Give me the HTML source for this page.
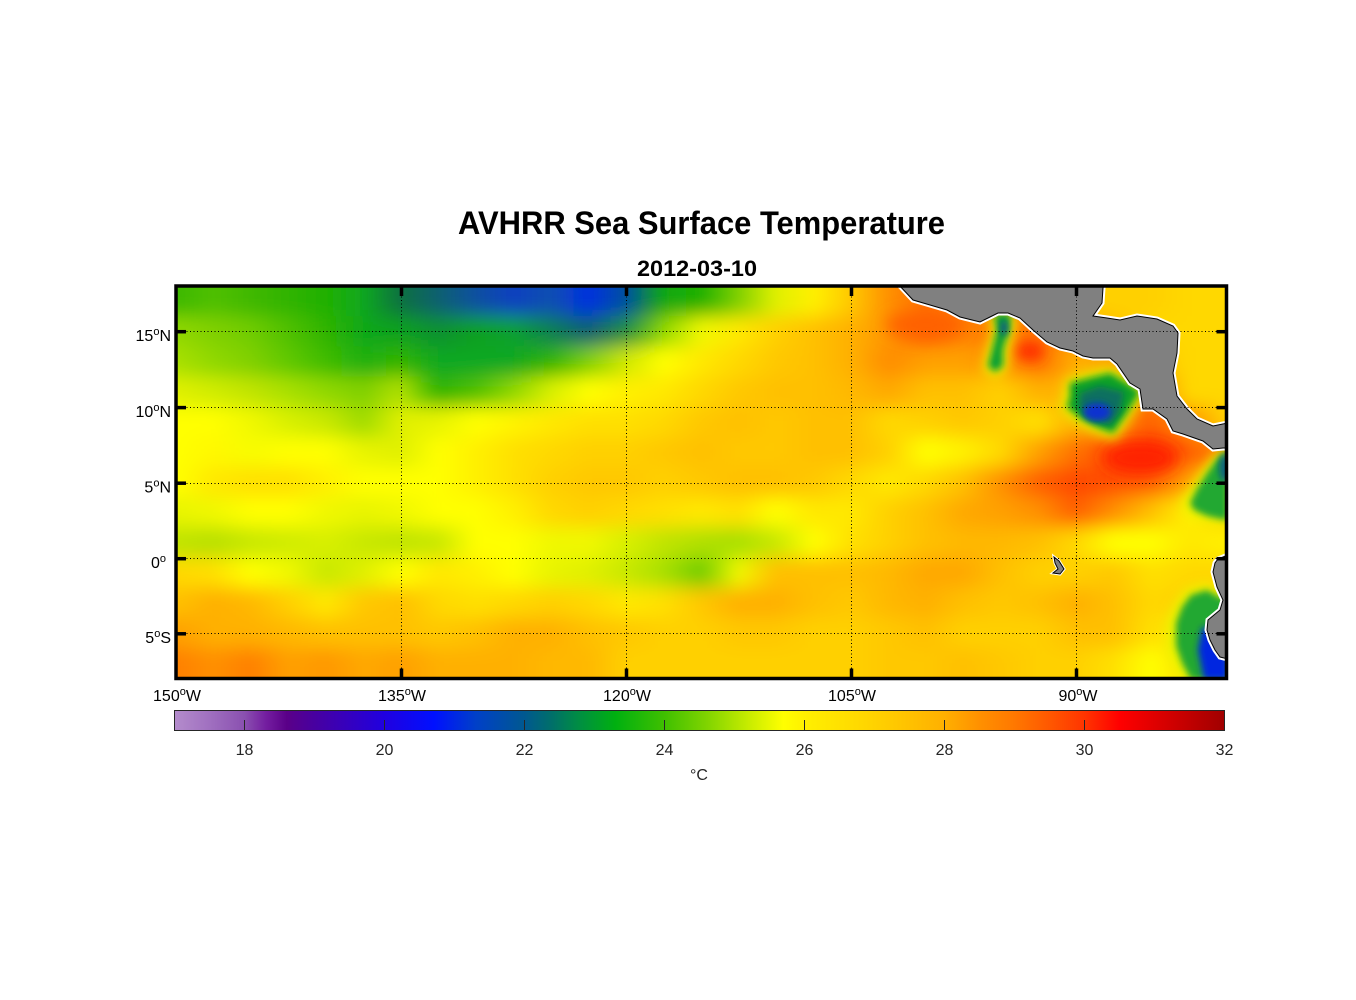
<!DOCTYPE html>
<html><head><meta charset="utf-8"><style>
html,body{margin:0;padding:0;background:#fff;}
svg{display:block;}
text{font-family:"Liberation Sans",Arial,sans-serif;}
</style></head><body>
<svg width="1356" height="1000" viewBox="0 0 1356 1000" xmlns="http://www.w3.org/2000/svg">
<defs>
<linearGradient id="r0" gradientUnits="userSpaceOnUse" x1="176" y1="0" x2="1226" y2="0">
<stop offset="0" stop-color="#3cb800"/><stop offset=".0357" stop-color="#50c000"/><stop offset=".0714" stop-color="#40b800"/><stop offset=".1071" stop-color="#30b400"/><stop offset=".1429" stop-color="#20b000"/><stop offset=".1786" stop-color="#10a820"/><stop offset=".2143" stop-color="#107040"/><stop offset=".25" stop-color="#0a6070"/><stop offset=".2857" stop-color="#1050a0"/><stop offset=".3214" stop-color="#1040c0"/><stop offset=".3571" stop-color="#1050b0"/><stop offset=".3929" stop-color="#0030e0"/><stop offset=".4286" stop-color="#0050a0"/><stop offset=".4643" stop-color="#10a810"/><stop offset=".5" stop-color="#20b000"/><stop offset=".5357" stop-color="#80d000"/><stop offset=".5714" stop-color="#e0f000"/><stop offset=".6071" stop-color="#fff000"/><stop offset=".6429" stop-color="#ffc800"/><stop offset=".6786" stop-color="#ff9000"/><stop offset=".7143" stop-color="#ff7000"/><stop offset=".75" stop-color="#ff8000"/><stop offset=".7857" stop-color="#ff8000"/><stop offset=".8214" stop-color="#ff9000"/><stop offset=".8571" stop-color="#ffd000"/><stop offset=".8929" stop-color="#ffd000"/><stop offset=".9286" stop-color="#ffd000"/><stop offset=".9643" stop-color="#ffd800"/><stop offset="1" stop-color="#ffd800"/>
</linearGradient>
<linearGradient id="r1" gradientUnits="userSpaceOnUse" x1="176" y1="0" x2="1226" y2="0">
<stop offset="0" stop-color="#90d800"/><stop offset=".0357" stop-color="#80d000"/><stop offset=".0714" stop-color="#70cc00"/><stop offset=".1071" stop-color="#50c000"/><stop offset=".1429" stop-color="#30b400"/><stop offset=".1786" stop-color="#10a818"/><stop offset=".2143" stop-color="#10a020"/><stop offset=".25" stop-color="#109030"/><stop offset=".2857" stop-color="#10a020"/><stop offset=".3214" stop-color="#10a030"/><stop offset=".3571" stop-color="#108050"/><stop offset=".3929" stop-color="#106070"/><stop offset=".4286" stop-color="#209040"/><stop offset=".4643" stop-color="#90d800"/><stop offset=".5" stop-color="#f0f800"/><stop offset=".5357" stop-color="#ffe800"/><stop offset=".5714" stop-color="#ffd000"/><stop offset=".6071" stop-color="#ffc000"/><stop offset=".6429" stop-color="#ffb000"/><stop offset=".6786" stop-color="#ff9800"/><stop offset=".7143" stop-color="#ff6a00"/><stop offset=".75" stop-color="#ff8000"/><stop offset=".7857" stop-color="#ff8000"/><stop offset=".8214" stop-color="#ff7000"/><stop offset=".8571" stop-color="#ff9000"/><stop offset=".8929" stop-color="#ffc000"/><stop offset=".9286" stop-color="#ffd800"/><stop offset=".9643" stop-color="#ffd800"/><stop offset="1" stop-color="#ffd800"/>
</linearGradient>
<linearGradient id="r2" gradientUnits="userSpaceOnUse" x1="176" y1="0" x2="1226" y2="0">
<stop offset="0" stop-color="#a8e000"/><stop offset=".0357" stop-color="#90d800"/><stop offset=".0714" stop-color="#80d000"/><stop offset=".1071" stop-color="#60c800"/><stop offset=".1429" stop-color="#40bc00"/><stop offset=".1786" stop-color="#20b010"/><stop offset=".2143" stop-color="#30b400"/><stop offset=".25" stop-color="#10a820"/><stop offset=".2857" stop-color="#10a820"/><stop offset=".3214" stop-color="#10a820"/><stop offset=".3571" stop-color="#30b400"/><stop offset=".3929" stop-color="#80d000"/><stop offset=".4286" stop-color="#d0e800"/><stop offset=".4643" stop-color="#ffff00"/><stop offset=".5" stop-color="#ffe800"/><stop offset=".5357" stop-color="#ffd800"/><stop offset=".5714" stop-color="#ffc800"/><stop offset=".6071" stop-color="#ffc000"/><stop offset=".6429" stop-color="#ffb000"/><stop offset=".6786" stop-color="#ff8c00"/><stop offset=".7143" stop-color="#ffa000"/><stop offset=".75" stop-color="#ffa000"/><stop offset=".7857" stop-color="#ff9000"/><stop offset=".8214" stop-color="#ff7000"/><stop offset=".8571" stop-color="#ffb000"/><stop offset=".8929" stop-color="#ffa000"/><stop offset=".9286" stop-color="#ffc000"/><stop offset=".9643" stop-color="#ffd800"/><stop offset="1" stop-color="#ffd800"/>
</linearGradient>
<linearGradient id="r3" gradientUnits="userSpaceOnUse" x1="176" y1="0" x2="1226" y2="0">
<stop offset="0" stop-color="#e0f000"/><stop offset=".0357" stop-color="#d0ec00"/><stop offset=".0714" stop-color="#c0e400"/><stop offset=".1071" stop-color="#a8e000"/><stop offset=".1429" stop-color="#90d800"/><stop offset=".1786" stop-color="#80d000"/><stop offset=".2143" stop-color="#b0e000"/><stop offset=".25" stop-color="#30b400"/><stop offset=".2857" stop-color="#50c000"/><stop offset=".3214" stop-color="#90d800"/><stop offset=".3571" stop-color="#d8f000"/><stop offset=".3929" stop-color="#ffff00"/><stop offset=".4286" stop-color="#fff000"/><stop offset=".4643" stop-color="#ffe800"/><stop offset=".5" stop-color="#ffd800"/><stop offset=".5357" stop-color="#ffc800"/><stop offset=".5714" stop-color="#ffc000"/><stop offset=".6071" stop-color="#ffc000"/><stop offset=".6429" stop-color="#ffb800"/><stop offset=".6786" stop-color="#ffa800"/><stop offset=".7143" stop-color="#ffc000"/><stop offset=".75" stop-color="#ffc000"/><stop offset=".7857" stop-color="#ffd000"/><stop offset=".8214" stop-color="#ffb000"/><stop offset=".8571" stop-color="#ffb800"/><stop offset=".8929" stop-color="#ffa000"/><stop offset=".9286" stop-color="#ff8000"/><stop offset=".9643" stop-color="#ffd800"/><stop offset="1" stop-color="#ffd800"/>
</linearGradient>
<linearGradient id="r4" gradientUnits="userSpaceOnUse" x1="176" y1="0" x2="1226" y2="0">
<stop offset="0" stop-color="#ffff00"/><stop offset=".0357" stop-color="#ffff00"/><stop offset=".0714" stop-color="#f0f800"/><stop offset=".1071" stop-color="#d8f000"/><stop offset=".1429" stop-color="#c8e800"/><stop offset=".1786" stop-color="#a0dc00"/><stop offset=".2143" stop-color="#e0f000"/><stop offset=".25" stop-color="#e8f400"/><stop offset=".2857" stop-color="#ffff00"/><stop offset=".3214" stop-color="#fff400"/><stop offset=".3571" stop-color="#ffe800"/><stop offset=".3929" stop-color="#ffe000"/><stop offset=".4286" stop-color="#ffe000"/><stop offset=".4643" stop-color="#ffd800"/><stop offset=".5" stop-color="#ffc800"/><stop offset=".5357" stop-color="#ffc000"/><stop offset=".5714" stop-color="#ffc800"/><stop offset=".6071" stop-color="#ffc000"/><stop offset=".6429" stop-color="#ffc000"/><stop offset=".6786" stop-color="#ffd800"/><stop offset=".7143" stop-color="#ffd000"/><stop offset=".75" stop-color="#ffc800"/><stop offset=".7857" stop-color="#ffd000"/><stop offset=".8214" stop-color="#ffe000"/><stop offset=".8571" stop-color="#ffb000"/><stop offset=".8929" stop-color="#ff9000"/><stop offset=".9286" stop-color="#ff6000"/><stop offset=".9643" stop-color="#ff9000"/><stop offset="1" stop-color="#ffd000"/>
</linearGradient>
<linearGradient id="r5" gradientUnits="userSpaceOnUse" x1="176" y1="0" x2="1226" y2="0">
<stop offset="0" stop-color="#ffff00"/><stop offset=".0357" stop-color="#fff800"/><stop offset=".0714" stop-color="#f8fc00"/><stop offset=".1071" stop-color="#ffff00"/><stop offset=".1429" stop-color="#ffff00"/><stop offset=".1786" stop-color="#e8f400"/><stop offset=".2143" stop-color="#e0f000"/><stop offset=".25" stop-color="#ffff00"/><stop offset=".2857" stop-color="#fff000"/><stop offset=".3214" stop-color="#ffe000"/><stop offset=".3571" stop-color="#ffd800"/><stop offset=".3929" stop-color="#ffd000"/><stop offset=".4286" stop-color="#ffd000"/><stop offset=".4643" stop-color="#ffc800"/><stop offset=".5" stop-color="#ffc000"/><stop offset=".5357" stop-color="#ffc800"/><stop offset=".5714" stop-color="#ffc800"/><stop offset=".6071" stop-color="#ffc000"/><stop offset=".6429" stop-color="#ffc000"/><stop offset=".6786" stop-color="#ffd000"/><stop offset=".7143" stop-color="#ffff00"/><stop offset=".75" stop-color="#fff000"/><stop offset=".7857" stop-color="#ffd800"/><stop offset=".8214" stop-color="#ffa000"/><stop offset=".8571" stop-color="#ff7000"/><stop offset=".8929" stop-color="#ff5000"/><stop offset=".9286" stop-color="#ff3000"/><stop offset=".9643" stop-color="#ff6000"/><stop offset="1" stop-color="#ff8000"/>
</linearGradient>
<linearGradient id="r6" gradientUnits="userSpaceOnUse" x1="176" y1="0" x2="1226" y2="0">
<stop offset="0" stop-color="#ffff00"/><stop offset=".0357" stop-color="#ffe800"/><stop offset=".0714" stop-color="#ffe000"/><stop offset=".1071" stop-color="#ffe000"/><stop offset=".1429" stop-color="#fff000"/><stop offset=".1786" stop-color="#ffff00"/><stop offset=".2143" stop-color="#ffff00"/><stop offset=".25" stop-color="#ffff00"/><stop offset=".2857" stop-color="#fff000"/><stop offset=".3214" stop-color="#ffe000"/><stop offset=".3571" stop-color="#ffd000"/><stop offset=".3929" stop-color="#ffc800"/><stop offset=".4286" stop-color="#ffc800"/><stop offset=".4643" stop-color="#ffd000"/><stop offset=".5" stop-color="#ffc800"/><stop offset=".5357" stop-color="#ffc000"/><stop offset=".5714" stop-color="#ffc000"/><stop offset=".6071" stop-color="#ffc800"/><stop offset=".6429" stop-color="#ffd800"/><stop offset=".6786" stop-color="#ffe800"/><stop offset=".7143" stop-color="#ffd800"/><stop offset=".75" stop-color="#ffc000"/><stop offset=".7857" stop-color="#ff9000"/><stop offset=".8214" stop-color="#ff6000"/><stop offset=".8571" stop-color="#ff4800"/><stop offset=".8929" stop-color="#ff5000"/><stop offset=".9286" stop-color="#ff6000"/><stop offset=".9643" stop-color="#ffa000"/><stop offset="1" stop-color="#ff9000"/>
</linearGradient>
<linearGradient id="r7" gradientUnits="userSpaceOnUse" x1="176" y1="0" x2="1226" y2="0">
<stop offset="0" stop-color="#e8f400"/><stop offset=".0357" stop-color="#f0f800"/><stop offset=".0714" stop-color="#ffff00"/><stop offset=".1071" stop-color="#ffff00"/><stop offset=".1429" stop-color="#f0f800"/><stop offset=".1786" stop-color="#e8f400"/><stop offset=".2143" stop-color="#f0f800"/><stop offset=".25" stop-color="#ffff00"/><stop offset=".2857" stop-color="#ffff00"/><stop offset=".3214" stop-color="#fff000"/><stop offset=".3571" stop-color="#ffd800"/><stop offset=".3929" stop-color="#ffd000"/><stop offset=".4286" stop-color="#ffd800"/><stop offset=".4643" stop-color="#ffe000"/><stop offset=".5" stop-color="#ffe800"/><stop offset=".5357" stop-color="#ffe000"/><stop offset=".5714" stop-color="#ffff00"/><stop offset=".6071" stop-color="#ffe800"/><stop offset=".6429" stop-color="#ffe800"/><stop offset=".6786" stop-color="#ffd000"/><stop offset=".7143" stop-color="#ffc000"/><stop offset=".75" stop-color="#ffa800"/><stop offset=".7857" stop-color="#ffa000"/><stop offset=".8214" stop-color="#ff9000"/><stop offset=".8571" stop-color="#ff6000"/><stop offset=".8929" stop-color="#ff9000"/><stop offset=".9286" stop-color="#ffc000"/><stop offset=".9643" stop-color="#fff000"/><stop offset="1" stop-color="#ffd000"/>
</linearGradient>
<linearGradient id="r8" gradientUnits="userSpaceOnUse" x1="176" y1="0" x2="1226" y2="0">
<stop offset="0" stop-color="#c0e400"/><stop offset=".0357" stop-color="#b8e000"/><stop offset=".0714" stop-color="#c8e800"/><stop offset=".1071" stop-color="#d0ec00"/><stop offset=".1429" stop-color="#d8f000"/><stop offset=".1786" stop-color="#c8e800"/><stop offset=".2143" stop-color="#c0e400"/><stop offset=".25" stop-color="#c8e800"/><stop offset=".2857" stop-color="#ffff00"/><stop offset=".3214" stop-color="#ffff00"/><stop offset=".3571" stop-color="#f0f800"/><stop offset=".3929" stop-color="#f0f800"/><stop offset=".4286" stop-color="#d8f000"/><stop offset=".4643" stop-color="#c0e400"/><stop offset=".5" stop-color="#b0e000"/><stop offset=".5357" stop-color="#a8e000"/><stop offset=".5714" stop-color="#c8e800"/><stop offset=".6071" stop-color="#ffff00"/><stop offset=".6429" stop-color="#ffe000"/><stop offset=".6786" stop-color="#ffd000"/><stop offset=".7143" stop-color="#ffc000"/><stop offset=".75" stop-color="#ffb800"/><stop offset=".7857" stop-color="#ffb800"/><stop offset=".8214" stop-color="#ffc000"/><stop offset=".8571" stop-color="#ffd800"/><stop offset=".8929" stop-color="#ffff00"/><stop offset=".9286" stop-color="#ffff00"/><stop offset=".9643" stop-color="#ffe800"/><stop offset="1" stop-color="#fff000"/>
</linearGradient>
<linearGradient id="r9" gradientUnits="userSpaceOnUse" x1="176" y1="0" x2="1226" y2="0">
<stop offset="0" stop-color="#ffd800"/><stop offset=".0357" stop-color="#ffe000"/><stop offset=".0714" stop-color="#ffff00"/><stop offset=".1071" stop-color="#f0f800"/><stop offset=".1429" stop-color="#c8e800"/><stop offset=".1786" stop-color="#e0f000"/><stop offset=".2143" stop-color="#ffff00"/><stop offset=".25" stop-color="#ffe800"/><stop offset=".2857" stop-color="#fff000"/><stop offset=".3214" stop-color="#ffff00"/><stop offset=".3571" stop-color="#e8f400"/><stop offset=".3929" stop-color="#e0f000"/><stop offset=".4286" stop-color="#c8e800"/><stop offset=".4643" stop-color="#a8e000"/><stop offset=".5" stop-color="#70cc00"/><stop offset=".5357" stop-color="#f0f800"/><stop offset=".5714" stop-color="#ffc000"/><stop offset=".6071" stop-color="#ffc000"/><stop offset=".6429" stop-color="#ffc000"/><stop offset=".6786" stop-color="#ffb800"/><stop offset=".7143" stop-color="#ffa800"/><stop offset=".75" stop-color="#ffa800"/><stop offset=".7857" stop-color="#ffc000"/><stop offset=".8214" stop-color="#ffd000"/><stop offset=".8571" stop-color="#ffd000"/><stop offset=".8929" stop-color="#ffc800"/><stop offset=".9286" stop-color="#ffe000"/><stop offset=".9643" stop-color="#ffd800"/><stop offset="1" stop-color="#ffd800"/>
</linearGradient>
<linearGradient id="r10" gradientUnits="userSpaceOnUse" x1="176" y1="0" x2="1226" y2="0">
<stop offset="0" stop-color="#ffc000"/><stop offset=".0357" stop-color="#ffb000"/><stop offset=".0714" stop-color="#ffb800"/><stop offset=".1071" stop-color="#ffd000"/><stop offset=".1429" stop-color="#ffe800"/><stop offset=".1786" stop-color="#ffc800"/><stop offset=".2143" stop-color="#ffc000"/><stop offset=".25" stop-color="#ffd800"/><stop offset=".2857" stop-color="#ffe000"/><stop offset=".3214" stop-color="#ffd800"/><stop offset=".3571" stop-color="#ffd000"/><stop offset=".3929" stop-color="#ffd800"/><stop offset=".4286" stop-color="#ffe800"/><stop offset=".4643" stop-color="#ffe000"/><stop offset=".5" stop-color="#ffc800"/><stop offset=".5357" stop-color="#ffb000"/><stop offset=".5714" stop-color="#ffb000"/><stop offset=".6071" stop-color="#ffc000"/><stop offset=".6429" stop-color="#ffc800"/><stop offset=".6786" stop-color="#ffb800"/><stop offset=".7143" stop-color="#ffb000"/><stop offset=".75" stop-color="#ffc000"/><stop offset=".7857" stop-color="#ffc800"/><stop offset=".8214" stop-color="#ffc000"/><stop offset=".8571" stop-color="#ffb000"/><stop offset=".8929" stop-color="#ffc000"/><stop offset=".9286" stop-color="#ffd800"/><stop offset=".9643" stop-color="#ffd000"/><stop offset="1" stop-color="#ffd000"/>
</linearGradient>
<linearGradient id="r11" gradientUnits="userSpaceOnUse" x1="176" y1="0" x2="1226" y2="0">
<stop offset="0" stop-color="#ffa000"/><stop offset=".0357" stop-color="#ffb000"/><stop offset=".0714" stop-color="#ffb000"/><stop offset=".1071" stop-color="#ffb800"/><stop offset=".1429" stop-color="#ffc000"/><stop offset=".1786" stop-color="#ffc000"/><stop offset=".2143" stop-color="#ffc000"/><stop offset=".25" stop-color="#ffc800"/><stop offset=".2857" stop-color="#ffc000"/><stop offset=".3214" stop-color="#ffb000"/><stop offset=".3571" stop-color="#ffb000"/><stop offset=".3929" stop-color="#ffc000"/><stop offset=".4286" stop-color="#ffc800"/><stop offset=".4643" stop-color="#ffd000"/><stop offset=".5" stop-color="#ffd000"/><stop offset=".5357" stop-color="#ffc800"/><stop offset=".5714" stop-color="#ffc800"/><stop offset=".6071" stop-color="#ffd000"/><stop offset=".6429" stop-color="#ffd000"/><stop offset=".6786" stop-color="#ffc800"/><stop offset=".7143" stop-color="#ffc000"/><stop offset=".75" stop-color="#ffd000"/><stop offset=".7857" stop-color="#ffd000"/><stop offset=".8214" stop-color="#ffd000"/><stop offset=".8571" stop-color="#ffc000"/><stop offset=".8929" stop-color="#ffc000"/><stop offset=".9286" stop-color="#ffe000"/><stop offset=".9643" stop-color="#ffe000"/><stop offset="1" stop-color="#ffd000"/>
</linearGradient>
<linearGradient id="r12" gradientUnits="userSpaceOnUse" x1="176" y1="0" x2="1226" y2="0">
<stop offset="0" stop-color="#ff8000"/><stop offset=".0357" stop-color="#ff9000"/><stop offset=".0714" stop-color="#ff8000"/><stop offset=".1071" stop-color="#ffa000"/><stop offset=".1429" stop-color="#ff9800"/><stop offset=".1786" stop-color="#ffa800"/><stop offset=".2143" stop-color="#ffa000"/><stop offset=".25" stop-color="#ffb000"/><stop offset=".2857" stop-color="#ffb000"/><stop offset=".3214" stop-color="#ffb000"/><stop offset=".3571" stop-color="#ffb800"/><stop offset=".3929" stop-color="#ffb800"/><stop offset=".4286" stop-color="#ffd000"/><stop offset=".4643" stop-color="#ffd000"/><stop offset=".5" stop-color="#ffd000"/><stop offset=".5357" stop-color="#ffd000"/><stop offset=".5714" stop-color="#ffd000"/><stop offset=".6071" stop-color="#ffd000"/><stop offset=".6429" stop-color="#ffd000"/><stop offset=".6786" stop-color="#ffc800"/><stop offset=".7143" stop-color="#ffc800"/><stop offset=".75" stop-color="#ffc000"/><stop offset=".7857" stop-color="#ffc800"/><stop offset=".8214" stop-color="#ffd000"/><stop offset=".8571" stop-color="#ffd000"/><stop offset=".8929" stop-color="#ffe000"/><stop offset=".9286" stop-color="#ffff00"/><stop offset=".9643" stop-color="#ffe000"/><stop offset="1" stop-color="#ffd000"/>
</linearGradient>
<linearGradient id="cb" gradientUnits="userSpaceOnUse" x1="174.5" y1="0" x2="1224.5" y2="0">
<stop offset="0" stop-color="#b48ccc"/><stop offset=".0333" stop-color="#a070c0"/><stop offset=".0667" stop-color="#8a50b0"/><stop offset=".087" stop-color="#741ea0"/><stop offset=".107" stop-color="#5a0088"/><stop offset=".133" stop-color="#4800a0"/><stop offset=".167" stop-color="#3400c0"/><stop offset=".2" stop-color="#2000e0"/><stop offset=".247" stop-color="#0010ff"/><stop offset=".287" stop-color="#0040c8"/><stop offset=".333" stop-color="#005890"/><stop offset=".36" stop-color="#007068"/><stop offset=".387" stop-color="#009040"/><stop offset=".42" stop-color="#00b010"/><stop offset=".467" stop-color="#40c000"/><stop offset=".507" stop-color="#80d400"/><stop offset=".547" stop-color="#c8ec00"/><stop offset=".58" stop-color="#ffff00"/><stop offset=".6" stop-color="#fff000"/><stop offset=".667" stop-color="#ffd200"/><stop offset=".733" stop-color="#ffb000"/><stop offset=".767" stop-color="#ff9000"/><stop offset=".8" stop-color="#ff7800"/><stop offset=".833" stop-color="#ff5800"/><stop offset=".867" stop-color="#ff3400"/><stop offset=".9" stop-color="#ff0000"/><stop offset=".933" stop-color="#e00000"/><stop offset=".967" stop-color="#c00000"/><stop offset="1" stop-color="#a00000"/>
</linearGradient>
<clipPath id="mapclip"><rect x="176" y="286" width="1050.5" height="392.5"/></clipPath>
<filter id="fb" filterUnits="userSpaceOnUse" x="100" y="200" width="1200" height="560"><feGaussianBlur stdDeviation="7 9"/></filter>
<filter id="f2" filterUnits="userSpaceOnUse" x="900" y="280" width="400" height="420"><feGaussianBlur stdDeviation="3.5"/></filter>
<filter id="f4" filterUnits="userSpaceOnUse" x="850" y="260" width="450" height="460"><feGaussianBlur stdDeviation="6"/></filter>
<filter id="f8" filterUnits="userSpaceOnUse" x="800" y="260" width="500" height="460"><feGaussianBlur stdDeviation="8"/></filter>
</defs>

<text x="458" y="234" font-size="32" font-weight="bold" textLength="487" lengthAdjust="spacingAndGlyphs" fill="#000">AVHRR Sea Surface Temperature</text>
<text x="637" y="276" font-size="22" font-weight="bold" textLength="120" lengthAdjust="spacingAndGlyphs" fill="#000">2012-03-10</text>

<g clip-path="url(#mapclip)">
 <g filter="url(#fb)">
  <rect x="130" y="240" width="1140" height="77.2" fill="url(#r0)"/>
  <rect x="130" y="316.15" width="1140" height="31.2" fill="url(#r1)"/>
  <rect x="130" y="346.3" width="1140" height="31.2" fill="url(#r2)"/>
  <rect x="130" y="376.45" width="1140" height="31.2" fill="url(#r3)"/>
  <rect x="130" y="406.6" width="1140" height="31.2" fill="url(#r4)"/>
  <rect x="130" y="436.75" width="1140" height="31.2" fill="url(#r5)"/>
  <rect x="130" y="466.9" width="1140" height="31.2" fill="url(#r6)"/>
  <rect x="130" y="497.05" width="1140" height="31.2" fill="url(#r7)"/>
  <rect x="130" y="527.2" width="1140" height="31.2" fill="url(#r8)"/>
  <rect x="130" y="557.35" width="1140" height="31.2" fill="url(#r9)"/>
  <rect x="130" y="587.5" width="1140" height="31.2" fill="url(#r10)"/>
  <rect x="130" y="617.65" width="1140" height="31.2" fill="url(#r11)"/>
  <rect x="130" y="647.8" width="1140" height="75" fill="url(#r12)"/>
 </g>
 <ellipse cx="925" cy="325" rx="40" ry="14" fill="#ff6000" filter="url(#f8)"/>
 <ellipse cx="1030" cy="351" rx="14" ry="10" fill="#ff3000" filter="url(#f4)"/>
 <ellipse cx="1140" cy="458" rx="38" ry="16" fill="#ff2200" filter="url(#f8)"/>
 <path d="M988,313 L1016,313 L1014,332 L1008,350 L1008,368 L996,378 L983,371 L987,350 L993,330 Z" fill="#e8f400" filter="url(#f4)"/>
 <path d="M994,314 L1011,314 L1009,330 L1003,350 L1003,366 L995,372 L988,366 L992,350 L997,330 Z" fill="#10a030" filter="url(#f2)"/>
 <ellipse cx="1004" cy="328" rx="4" ry="8" fill="#0a6080" filter="url(#f2)"/>
 <polygon points="1066,379 1093,371 1110,367 1132,380 1146,392 1131,417 1115,440 1095,433 1076,423 1060,409 1064,395" fill="#e0f000" filter="url(#f4)"/>
 <polygon points="1070,383 1093,377 1110,373 1127,383 1140,392 1127,413 1113,433 1097,427 1080,418 1067,407 1070,397" fill="#10a028" filter="url(#f2)"/>
 <polygon points="1080,393 1100,386 1124,392 1120,412 1110,425 1090,419 1079,406" fill="#0a7060" filter="url(#f2)"/>
 <ellipse cx="1097" cy="412" rx="14" ry="9" fill="#0830d0" filter="url(#f2)"/>
 <path d="M1230,445 L1213,456 L1201,471 L1190,488 L1181,503 L1188,514 L1207,521 L1230,525 Z" fill="#e8f400" filter="url(#f4)"/>
 <path d="M1228,450 L1217,459 L1207,473 L1197,489 L1190,503 L1194,510 L1207,516 L1220,519 L1228,520 Z" fill="#20a830" filter="url(#f2)"/>
 <ellipse cx="1225" cy="468" rx="6" ry="14" fill="#0a6080" filter="url(#f2)"/>
 <path d="M1208,584 L1186,589 L1175,604 L1167,623 L1167,648 L1174,665 L1184,682 L1230,682 L1230,596 L1219,591 Z" fill="#e8f400" filter="url(#f4)"/>
 <path d="M1207,590 L1191,595 L1182,607 L1176,623 L1176,646 L1182,663 L1191,680 L1228,680 L1228,600 L1217,596 Z" fill="#20a830" filter="url(#f2)"/>
 <path d="M1202,628 L1198,650 L1204,680 L1228,680 L1228,640 L1212,627 Z" fill="#0028e0" filter="url(#f2)"/>

 <g stroke-linejoin="miter">
  <path d="M898,284 L1104,284 L1103,288 L1102,303 L1093,316 L1107,318 L1120,320 L1137,316 L1157,319 L1173,326 L1178,333 L1177,353 L1173,373 L1177,396 L1187,409 L1197,419 L1213,426 L1228,423 L1228,448 L1223,448 L1213,449 L1203,441 L1183,434 L1173,431 L1167,419 L1153,409 L1143,409 L1140,389 L1130,383 L1117,364 L1110,358 L1093,358 L1083,356 L1073,351 L1060,348 L1047,342 L1033,330 L1020,318 L1008,313 L998,313 L990,317 L980,322 L960,317 L947,310 L930,305 L913,300 Z" fill="#fff" stroke="#fff" stroke-width="5"/>
  <path d="M1228,555 L1218,559 L1215,563 L1213,572 L1217,587 L1223,600 L1220,610 L1208,620 L1207,630 L1210,640 L1215,650 L1220,657 L1228,659 Z" fill="#fff" stroke="#fff" stroke-width="5"/>
  <path d="M1054,557 L1059,561 L1064,569 L1060,574 L1053,573 L1058,569 L1055,563 Z" fill="#fff" stroke="#fff" stroke-width="3"/>
  <path d="M898,284 L1104,284 L1103,288 L1102,303 L1093,316 L1107,318 L1120,320 L1137,316 L1157,319 L1173,326 L1178,333 L1177,353 L1173,373 L1177,396 L1187,409 L1197,419 L1213,426 L1228,423 L1228,448 L1223,448 L1213,449 L1203,441 L1183,434 L1173,431 L1167,419 L1153,409 L1143,409 L1140,389 L1130,383 L1117,364 L1110,358 L1093,358 L1083,356 L1073,351 L1060,348 L1047,342 L1033,330 L1020,318 L1008,313 L998,313 L990,317 L980,322 L960,317 L947,310 L930,305 L913,300 Z" fill="#808080" stroke="#000" stroke-width="1"/>
  <path d="M1228,555 L1218,559 L1215,563 L1213,572 L1217,587 L1223,600 L1220,610 L1208,620 L1207,630 L1210,640 L1215,650 L1220,657 L1228,659 Z" fill="#808080" stroke="#000" stroke-width="1"/>
  <path d="M1054,557 L1059,561 L1064,569 L1060,574 L1053,573 L1058,569 L1055,563 Z" fill="#808080" stroke="#000" stroke-width="1"/>
 </g>

 <g stroke="#000" stroke-width="1" stroke-dasharray="1 2.5" fill="none">
  <line x1="176" y1="331.5" x2="1227" y2="331.5"/>
  <line x1="176" y1="407.5" x2="1227" y2="407.5"/>
  <line x1="176" y1="483.5" x2="1227" y2="483.5"/>
  <line x1="176" y1="558.5" x2="1227" y2="558.5"/>
  <line x1="176" y1="633.5" x2="1227" y2="633.5"/>
  <line x1="401.5" y1="286" x2="401.5" y2="679"/>
  <line x1="626.5" y1="286" x2="626.5" y2="679"/>
  <line x1="851.5" y1="286" x2="851.5" y2="679"/>
  <line x1="1076.5" y1="286" x2="1076.5" y2="679"/>
 </g>
</g>

<rect x="176" y="286" width="1050.5" height="392.5" fill="none" stroke="#000" stroke-width="3.5"/>
<g stroke="#000" stroke-width="3.5">
 <line x1="401.5" y1="286" x2="401.5" y2="296"/>
 <line x1="626.5" y1="286" x2="626.5" y2="296"/>
 <line x1="851.5" y1="286" x2="851.5" y2="296"/>
 <line x1="1076.5" y1="286" x2="1076.5" y2="296"/>
 <line x1="401.5" y1="678.5" x2="401.5" y2="668.5"/>
 <line x1="626.5" y1="678.5" x2="626.5" y2="668.5"/>
 <line x1="851.5" y1="678.5" x2="851.5" y2="668.5"/>
 <line x1="1076.5" y1="678.5" x2="1076.5" y2="668.5"/>
 <line x1="176" y1="331.7" x2="186" y2="331.7"/>
 <line x1="176" y1="407.6" x2="186" y2="407.6"/>
 <line x1="176" y1="483.2" x2="186" y2="483.2"/>
 <line x1="176" y1="558.7" x2="186" y2="558.7"/>
 <line x1="176" y1="633.8" x2="186" y2="633.8"/>
 <line x1="1226.5" y1="331.7" x2="1216.5" y2="331.7"/>
 <line x1="1226.5" y1="407.6" x2="1216.5" y2="407.6"/>
 <line x1="1226.5" y1="483.2" x2="1216.5" y2="483.2"/>
 <line x1="1226.5" y1="558.7" x2="1216.5" y2="558.7"/>
 <line x1="1226.5" y1="633.8" x2="1216.5" y2="633.8"/>
</g>

<g font-size="16" fill="#000" text-anchor="end">
 <text x="171" y="341">15<tspan font-size="11" dy="-6">o</tspan><tspan dy="6">N</tspan></text>
 <text x="171" y="417">10<tspan font-size="11" dy="-6">o</tspan><tspan dy="6">N</tspan></text>
 <text x="171" y="492.5">5<tspan font-size="11" dy="-6">o</tspan><tspan dy="6">N</tspan></text>
 <text x="166" y="568">0<tspan font-size="11" dy="-6">o</tspan></text>
 <text x="171" y="643">5<tspan font-size="11" dy="-6">o</tspan><tspan dy="6">S</tspan></text>
</g>
<g font-size="16" fill="#000" text-anchor="middle">
 <text x="177" y="701">150<tspan font-size="11" dy="-6">o</tspan><tspan dy="6">W</tspan></text>
 <text x="402" y="701">135<tspan font-size="11" dy="-6">o</tspan><tspan dy="6">W</tspan></text>
 <text x="627" y="701">120<tspan font-size="11" dy="-6">o</tspan><tspan dy="6">W</tspan></text>
 <text x="852" y="701">105<tspan font-size="11" dy="-6">o</tspan><tspan dy="6">W</tspan></text>
 <text x="1078" y="701">90<tspan font-size="11" dy="-6">o</tspan><tspan dy="6">W</tspan></text>
</g>

<rect x="174.5" y="710.5" width="1050" height="20" fill="url(#cb)" stroke="#262626" stroke-width="1"/>
<g stroke="#262626" stroke-width="1">
 <line x1="244.5" y1="720" x2="244.5" y2="730"/>
 <line x1="384.5" y1="720" x2="384.5" y2="730"/>
 <line x1="524.5" y1="720" x2="524.5" y2="730"/>
 <line x1="664.5" y1="720" x2="664.5" y2="730"/>
 <line x1="804.5" y1="720" x2="804.5" y2="730"/>
 <line x1="944.5" y1="720" x2="944.5" y2="730"/>
 <line x1="1084.5" y1="720" x2="1084.5" y2="730"/>
</g>
<g font-size="16" fill="#262626" text-anchor="middle">
 <text x="244.5" y="755">18</text>
 <text x="384.5" y="755">20</text>
 <text x="524.5" y="755">22</text>
 <text x="664.5" y="755">24</text>
 <text x="804.5" y="755">26</text>
 <text x="944.5" y="755">28</text>
 <text x="1084.5" y="755">30</text>
 <text x="1224.5" y="755">32</text>
 <text x="699" y="780">°C</text>
</g>
</svg>
</body></html>
